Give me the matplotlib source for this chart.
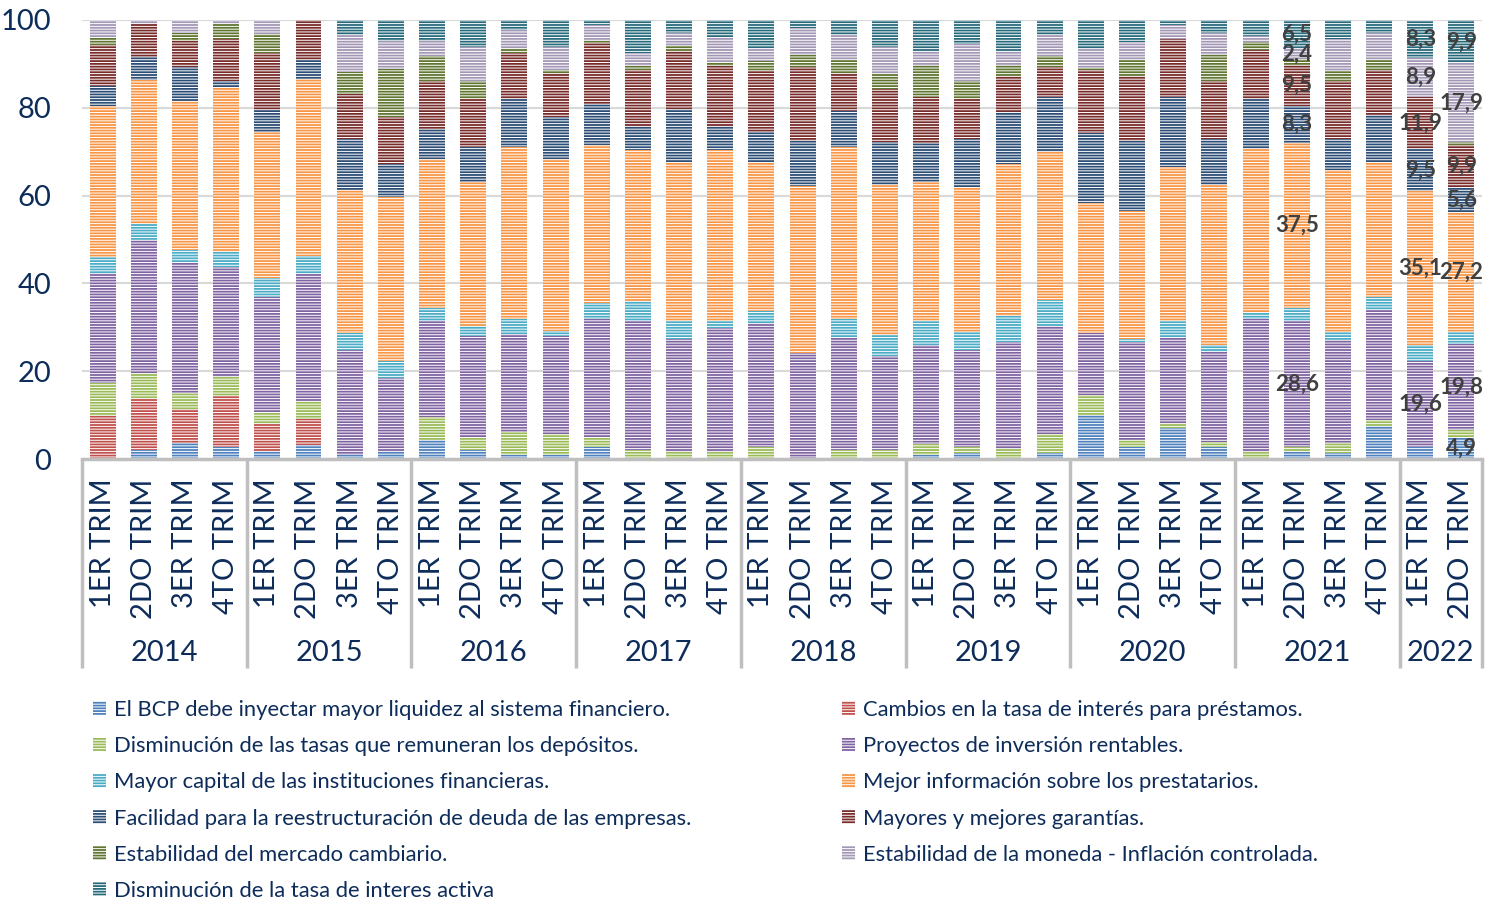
import numpy as np
import matplotlib.pyplot as plt
import matplotlib.transforms as mtransforms
from matplotlib.patches import Patch

plt.rcParams['font.family'] = ['Lato', 'DejaVu Sans']
plt.rcParams['hatch.color'] = 'white'
plt.rcParams['hatch.linewidth'] = 0.7

navy = '#0d2c5a'

years = ['2014', '2015', '2016', '2017', '2018', '2019', '2020', '2021', '2022']
quarters_per_year = [4, 4, 4, 4, 4, 4, 4, 4, 2]
quarter_names = ['1ER TRIM', '2DO TRIM', '3ER TRIM', '4TO TRIM']

series_names = [
    'El BCP debe inyectar mayor liquidez al sistema financiero.',
    'Cambios en la tasa de interés para préstamos.',
    'Disminución de las tasas que remuneran los depósitos.',
    'Proyectos de inversión rentables.',
    'Mayor capital de las instituciones financieras.',
    'Mejor información sobre los prestatarios.',
    'Facilidad para la reestructuración de deuda de las empresas.',
    'Mayores y mejores garantías.',
    'Estabilidad del mercado cambiario.',
    'Estabilidad de la moneda - Inflación controlada.',
    'Disminución de la tasa de interes activa',
]
colors = ['#4f81bd', '#c0504d', '#9bbb59', '#8064a2', '#4bacc6', '#f79646',
          '#2c4d75', '#772c2a', '#5f7530', '#a297b5', '#276a7c']

liquidez = [0, 2.0, 3.6, 2.7, 1.9, 3.3, 0.9, 1.5, 4.3, 2.0, 0.9, 0.9, 2.7, 0, 0, 0, 0,
            0, 0, 0, 0.9, 1.4, 0, 1.4, 10.0, 2.7, 7.0, 2.7, 0, 1.7, 1.3, 7.5, 2.7, 4.9]
tasa_prestamos = [9.8, 11.6, 7.7, 11.7, 6.0, 5.7, 0, 0, 0, 0, 0, 0, 0, 0, 0, 0, 0,
                  0, 0, 0, 0, 0, 0, 0, 0, 0, 0, 0, 0, 0, 0, 0, 0, 0]
tasas_depositos = [7.4, 6.1, 3.7, 4.2, 2.7, 4.1, 0, 0, 5.2, 2.9, 5.3, 4.8, 2.4, 2.0, 1.7, 1.7, 2.8,
                   0, 2.0, 2.0, 2.5, 1.4, 2.2, 4.4, 4.6, 1.6, 1.1, 1.2, 1.7, 1.1, 2.3, 1.4, 0, 1.6]
proyectos = [25.1, 30.2, 29.6, 25.1, 26.2, 29.0, 23.9, 16.9, 22.0, 23.2, 22.3, 22.4, 26.9, 29.5, 25.6, 28.1, 28.1,
             24.2, 25.5, 21.5, 22.6, 22.0, 24.5, 24.5, 14.2, 22.4, 19.8, 20.4, 30.3, 28.6, 23.5, 25.0, 19.6, 19.8]
capital = [3.8, 3.7, 3.0, 3.4, 4.4, 4.2, 3.8, 3.9, 3.0, 2.3, 3.5, 1.1, 3.5, 4.5, 4.1, 1.6, 2.8,
           0, 4.5, 4.7, 5.5, 4.2, 5.9, 5.9, 0, 0.6, 3.5, 1.7, 1.2, 3.1, 1.9, 2.9, 3.7, 2.6]
informacion = [34.4, 32.7, 34.0, 37.6, 33.4, 40.3, 32.7, 37.3, 33.8, 32.6, 39.1, 39.1, 36.0, 34.5, 36.2, 39.1, 33.8,
               38.1, 39.1, 34.2, 31.5, 33.0, 34.6, 33.8, 29.6, 29.2, 35.2, 36.4, 37.4, 37.5, 36.8, 30.9, 35.1, 27.2]
reestructuracion = [4.5, 5.2, 7.6, 1.3, 4.9, 4.3, 11.6, 7.5, 6.9, 8.1, 10.8, 9.7, 9.4, 5.2, 12.1, 5.1, 7.1,
                    10.1, 8.2, 9.9, 8.9, 11.0, 11.9, 12.4, 15.8, 16.0, 15.9, 10.6, 11.3, 8.3, 7.2, 10.7, 9.5, 5.6]
garantias = [9.2, 7.6, 6.1, 9.6, 12.9, 9.1, 10.2, 10.9, 10.9, 10.8, 10.5, 9.9, 13.8, 12.8, 13.3, 13.9, 13.8,
             17.0, 8.6, 12.0, 10.5, 8.9, 8.2, 6.8, 14.3, 14.7, 13.1, 13.1, 11.3, 9.5, 13.1, 10.2, 11.9, 9.9]
cambiario = [1.8, 0, 1.7, 3.6, 4.4, 0, 5.1, 10.8, 5.7, 4.1, 1.0, 0.6, 0.6, 1.0, 1.1, 1.0, 2.3,
             2.6, 3.1, 3.3, 7.3, 4.2, 2.4, 2.7, 0.5, 3.7, 0, 5.9, 1.9, 1.3, 2.3, 2.3, 0, 0.6]
moneda = [4.0, 0.9, 3.0, 0.8, 3.2, 0, 8.4, 6.4, 3.5, 7.8, 4.3, 5.3, 3.6, 2.9, 3.0, 5.3, 3.0,
          6.1, 5.6, 6.2, 3.2, 8.4, 3.2, 4.7, 4.5, 4.2, 3.3, 5.0, 1.3, 2.4, 7.2, 6.2, 8.9, 17.9]
tasa_activa = [0, 0, 0, 0, 0, 0, 3.4, 4.8, 4.7, 6.2, 2.3, 6.2, 1.1, 7.6, 2.9, 4.2, 6.3,
               1.9, 3.4, 6.2, 7.1, 5.5, 7.1, 3.4, 6.5, 4.9, 1.1, 3.0, 3.6, 6.5, 4.4, 2.9, 8.3, 9.9]

data = [liquidez, tasa_prestamos, tasas_depositos, proyectos, capital, informacion,
        reestructuracion, garantias, cambiario, moneda, tasa_activa]

# bars with data labels: bar index -> series indices
labeled = {29: [3, 5, 6, 7, 9, 10], 32: [3, 5, 6, 7, 9, 10], 33: [0, 3, 5, 6, 7, 9, 10]}

xlabels = []
for y, nq in zip(years, quarters_per_year):
    xlabels += quarter_names[:nq]
x = np.arange(len(xlabels))

fig = plt.figure(figsize=(14.88, 9), dpi=100)
ax = fig.add_axes([82/1488, 1-459/900, 1400/1488, 439/900])

bottom = np.zeros(len(x))
for vals, col, name in zip(data, colors, series_names):
    vals = np.array(vals)
    ax.bar(x, vals, 0.63, bottom=bottom, color=col, hatch='------', linewidth=0, label=name, zorder=2)
    bottom += vals

# data labels
cum = np.cumsum(np.array(data), axis=0)
for b, idxs in labeled.items():
    for s in idxs:
        v = data[s][b]
        ymid = cum[s][b] - v/2
        ax.text(b, ymid, f'{v:.1f}'.replace('.', ','), ha='center', va='center',
                fontsize=16, fontweight='bold', color='#404040', zorder=5)

ax.set_xlim(-0.5, len(x)-0.5)
ax.set_ylim(0, 100)
ax.set_yticks(range(0, 101, 20))
ax.tick_params(axis='y', length=0, pad=22, labelsize=21, labelcolor=navy)
ax.set_xticks(x)
ax.set_xticklabels(xlabels, rotation=90, fontsize=21, color=navy, va='top')
ax.tick_params(axis='x', length=0, pad=14)
ax.grid(axis='y', color='#d9d9d9', linewidth=1.5, zorder=0)
ax.set_axisbelow(True)
for sp in ['top', 'right', 'left']:
    ax.spines[sp].set_visible(False)
ax.spines['bottom'].set_color('#bfbfbf')
ax.spines['bottom'].set_linewidth(2.5)

# year level of the category axis
trans = mtransforms.blended_transform_factory(ax.transData, ax.transAxes)
edges = np.concatenate([[0], np.cumsum(quarters_per_year)]) - 0.5
for e in edges:
    ax.plot([e, e], [0, -0.476], transform=trans, color='#bfbfbf', linewidth=2.5,
            clip_on=False, solid_capstyle='butt')
for i, y in enumerate(years):
    ax.text((edges[i] + edges[i+1]) / 2, -0.442, y, transform=trans, ha='center', va='center',
            fontsize=21, color=navy)

# legend, two columns as in the original (row-wise order)
handles = [Patch(facecolor=c, hatch='------', linewidth=0) for c in colors]
left_idx = [0, 2, 4, 6, 8, 10]
right_idx = [1, 3, 5, 7, 9]
kw = dict(frameon=False, fontsize=15.8, labelcolor=navy, handlelength=0.6, handleheight=0.6,
          handletextpad=0.35, labelspacing=0.74, borderpad=0, borderaxespad=0, loc='upper left')
fig.legend([handles[i] for i in left_idx], [series_names[i] for i in left_idx],
           bbox_to_anchor=(93/1488, 1-700/900), **kw)
fig.legend([handles[i] for i in right_idx], [series_names[i] for i in right_idx],
           bbox_to_anchor=(842/1488, 1-700/900), **kw)

plt.savefig('out.png', dpi=100)
